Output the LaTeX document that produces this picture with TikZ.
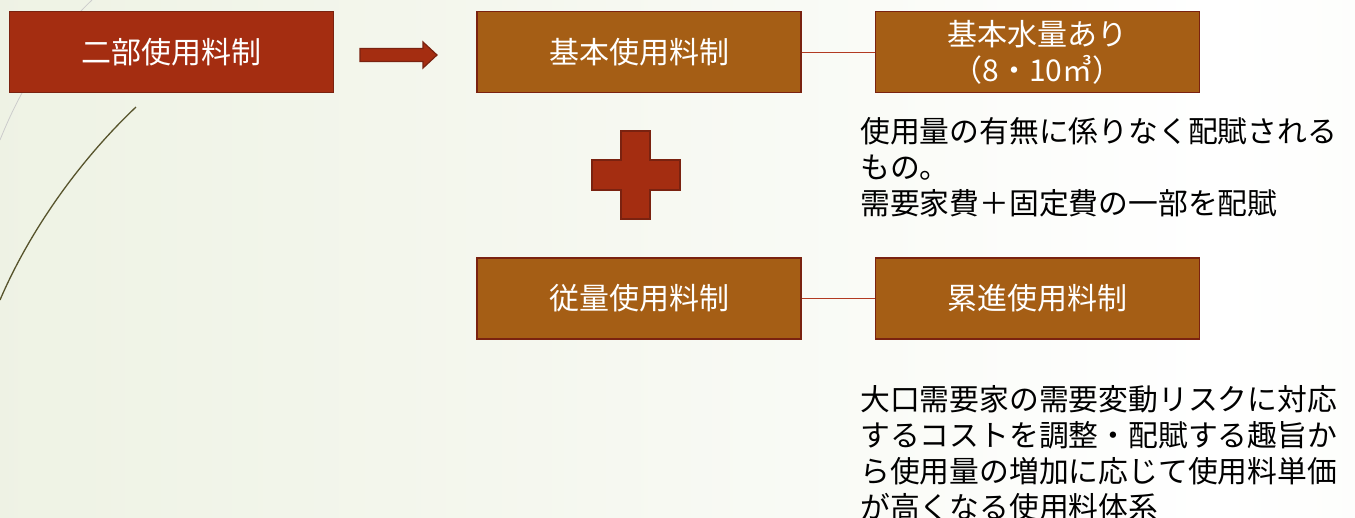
\documentclass[tikz,border=0pt]{standalone}
\usepackage{fontspec}
\setmainfont{Noto Sans CJK JP}
\definecolor{redbox}{HTML}{A42D11}
\definecolor{ochre}{HTML}{A55E15}
\definecolor{edge}{HTML}{7A2210}
\definecolor{conn}{HTML}{B23A22}
\definecolor{bgL}{HTML}{E6ECD7}
\definecolor{bgR}{HTML}{F3F5EA}
\pgfdeclarehorizontalshading{bgshade}{100bp}{color(0bp)=(bgL); color(45bp)=(white!60!bgL); color(70bp)=(white); color(100bp)=(bgR)}
\tikzset{
  x=1pt,y=-1pt,
  box/.style={draw=edge,line width=1.2pt,minimum width=324pt,minimum height=81pt,inner sep=0pt,
    text=white,font=\fontsize{30}{36}\selectfont,align=center},
  redb/.style={box,fill=redbox},
  ochb/.style={box,fill=ochre},
  conn/.style={draw=conn,line width=1pt},
  para/.style={anchor=north west,inner sep=0pt,align=left,font=\fontsize{29.8}{36}\selectfont,text=black},
  shape fill/.style={fill=redbox,draw=edge,line width=1.2pt},
}
\begin{document}
\begin{tikzpicture}
\useasboundingbox (0,0) rectangle (1355,517);
\shade[shading=bgshade] (0,0) rectangle (1355,517);
% decorative curves
\draw[color=white!60!gray,line width=0.8pt] (92,0) .. controls (50,40) and (20,90) .. (0,140);
\draw[color=black!50!olive,line width=1.3pt] (136,107) .. controls (80,160) and (30,230) .. (0,300);
% boxes
\node[redb] (a) at (171.5,52) {二部使用料制};
\node[ochb] (b) at (639,52) {基本使用料制};
\node[ochb] (c) at (1037.5,52) {基本水量あり\\（8・10㎥）};
\node[ochb] (d) at (639,298.5) {従量使用料制};
\node[ochb] (e) at (1037.5,298.5) {累進使用料制};
\draw[conn] (b.east) -- (c.west);
\draw[conn] (d.east) -- (e.west);
% block arrow
\coordinate (tip) at (437,55);
\filldraw[shape fill] (360,48.5) -- (423,48.5) -- (423,42) -- (tip) -- (423,68) -- (423,61.5) -- (360,61.5) -- cycle;
% plus
\filldraw[shape fill]
  (621,131) -- (650,131) -- (650,160) -- (680,160) -- (680,190) -- (650,190) -- (650,219)
  -- (621,219) -- (621,190) -- (592,190) -- (592,160) -- (621,160) -- cycle;
% paragraphs
\node[para] (t1) at (860,117) {使用量の有無に係りなく配賦される\\もの。\\需要家費＋固定費の一部を配賦};
\node[para] (t2) at (860,385) {大口需要家の需要変動リスクに対応\\するコストを調整・配賦する趣旨か\\ら使用量の増加に応じて使用料単価\\が高くなる使用料体系};
\end{tikzpicture}
\end{document}
